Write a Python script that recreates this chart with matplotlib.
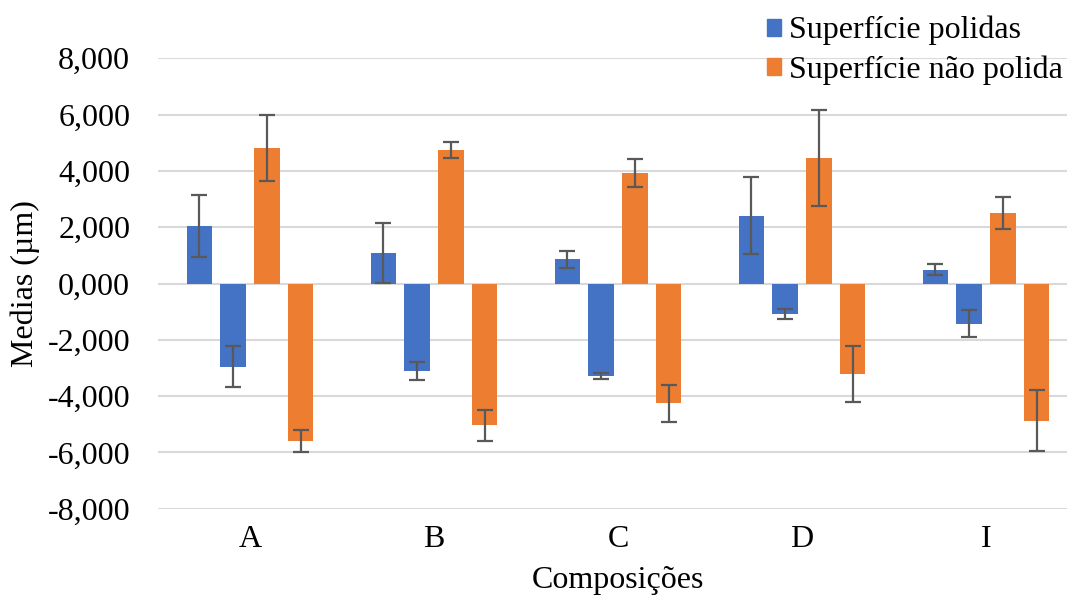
import numpy as np
import matplotlib
matplotlib.use("Agg")
import matplotlib.pyplot as plt
from matplotlib.patches import Patch

plt.rcParams["font.family"] = ["Liberation Serif", "DejaVu Serif"]

categories = ["A", "B", "C", "D", "I"]

# Polished surface: positive and negative means (µm) with error
polida_pos = [2.05, 1.09, 0.86, 2.41, 0.49]
polida_pos_err = [1.10, 1.07, 0.30, 1.37, 0.20]
polida_neg = [-2.95, -3.10, -3.29, -1.07, -1.43]
polida_neg_err = [0.74, 0.32, 0.12, 0.18, 0.48]

# Unpolished surface
nao_polida_pos = [4.82, 4.74, 3.94, 4.47, 2.49]
nao_polida_pos_err = [1.18, 0.28, 0.50, 1.71, 0.57]
nao_polida_neg = [-5.60, -5.04, -4.26, -3.21, -4.88]
nao_polida_neg_err = [0.38, 0.55, 0.65, 1.00, 1.08]

yticks = [-8, -6, -4, -2, 0, 2, 4, 6, 8]

BLUE = "#4472C4"
ORANGE = "#ED7D31"
ERR = "#595959"
FS = 23

fig = plt.figure(figsize=(10.67, 5.96), dpi=100)
ax = fig.add_axes([158 / 1067, 87.3 / 596, 920 / 1067, 450.4 / 596])

x = np.arange(len(categories))
step = 0.183
width = 0.141
groups = [
    (polida_pos, polida_pos_err, BLUE),
    (polida_neg, polida_neg_err, BLUE),
    (nao_polida_pos, nao_polida_pos_err, ORANGE),
    (nao_polida_neg, nao_polida_neg_err, ORANGE),
]
for i, (vals, errs, col) in enumerate(groups):
    ax.bar(x + (i - 1.5) * step, vals, width, color=col, zorder=3,
           yerr=errs, error_kw=dict(ecolor=ERR, elinewidth=1.6, capsize=6,
                                    capthick=1.6, zorder=4))

ax.set_xlim(-0.5, len(categories) - 0.5)
ax.set_ylim(-8, 8)
ax.set_yticks(yticks)
ax.set_yticklabels([f"{v:.3f}".replace(".", ",") for v in yticks])
ax.set_xticks(x)
ax.set_xticklabels(categories)
ax.tick_params(axis="both", length=0, labelsize=FS, colors="black")
ax.tick_params(axis="y", pad=20)
ax.tick_params(axis="x", pad=12)
ax.grid(axis="y", color="#D9D9D9", linewidth=1.5, zorder=0)
ax.set_axisbelow(True)
for s in ax.spines.values():
    s.set_visible(False)

ax.set_ylabel("Medias (µm)", fontsize=FS)
ax.yaxis.set_label_coords(-0.128, 0.5)
ax.set_xlabel("Composições", fontsize=FS)
ax.xaxis.set_label_coords(0.5, -0.128)

handles = [Patch(color=BLUE), Patch(color=ORANGE)]
fig.legend(handles, ["Superfície polidas", "Superfície não polida"],
           loc="upper right", bbox_to_anchor=(1.011, 1.0), frameon=False,
           fontsize=FS, handlelength=0.45, handleheight=0.45,
           handletextpad=0.25, labelspacing=0.32, borderaxespad=0.1)

fig.savefig("out.png", dpi=100)
